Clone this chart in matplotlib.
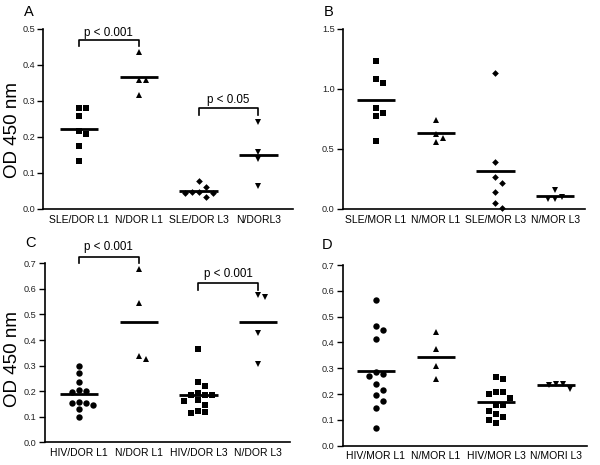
import matplotlib.pyplot as plt
import numpy as np

plt.rcParams['font.family'] = ['Liberation Sans', 'DejaVu Sans']

# panel A
a_labels = ['SLE/DOR L1', 'N/DOR L1', 'SLE/DOR L3', 'N/DORL3']
a_sle_dor_l1 = [0.280, 0.280, 0.259, 0.218, 0.208, 0.176, 0.134]
a_n_dor_l1 = [0.435, 0.358, 0.358, 0.317]
a_sle_dor_l3 = [0.079, 0.062, 0.047, 0.046, 0.045, 0.044, 0.034]
a_n_dorl3 = [0.241, 0.159, 0.139, 0.065]

# panel B
b_labels = ['SLE/MOR L1', 'N/MOR L1', 'SLE/MOR L3', 'N/MOR L3']
b_sle_mor_l1 = [1.236, 1.081, 1.047, 0.844, 0.803, 0.778, 0.567]
b_n_mor_l1 = [0.742, 0.622, 0.594, 0.561]
b_sle_mor_l3 = [1.131, 0.389, 0.264, 0.214, 0.139, 0.048, 0.011]
b_n_mor_l3 = [0.158, 0.102, 0.081, 0.081]

# panel C
c_labels = ['HIV/DOR L1', 'N/DOR L1', 'HIV/DOR L3', 'N/DOR L3']
c_hiv_dor_l1 = [0.298, 0.270, 0.237, 0.205, 0.202, 0.197, 0.159, 0.153,
                0.153, 0.145, 0.130, 0.098]
c_n_dor_l1 = [0.677, 0.544, 0.338, 0.325]
c_hiv_dor_l3 = [0.365, 0.237, 0.220, 0.192, 0.186, 0.186, 0.186, 0.165,
                0.163, 0.147, 0.124, 0.120, 0.116]
c_n_dor_l3 = [0.576, 0.570, 0.429, 0.305]

# panel D
d_labels = ['HIV/MOR L1', 'N/MOR L1', 'HIV/MOR L3', 'N/MORI L3']
d_hiv_mor_l1 = [0.565, 0.465, 0.448, 0.413, 0.284, 0.278, 0.270, 0.239,
                0.216, 0.196, 0.173, 0.145, 0.067]
d_n_mor_l1 = [0.439, 0.375, 0.309, 0.258]
d_hiv_mor_l3 = [0.267, 0.257, 0.209, 0.209, 0.200, 0.184, 0.158, 0.158,
                0.136, 0.123, 0.112, 0.100, 0.087]
d_n_mor_l3 = [0.239, 0.239, 0.235, 0.220]

fig = plt.figure(figsize=(6, 4.65), dpi=100)
W, H = 600, 465


def make_axes(left, right, top, bottom):
    return fig.add_axes([left / W, (H - bottom) / H, (right - left) / W, (bottom - top) / H])


def swarm(ax, xc, vals, marker, ms, step_px=7.0, size_px=6.8):
    y0 = ax.transData.transform((0, 0))
    y1 = ax.transData.transform((1, 1))
    xppu = abs(y1[0] - y0[0])
    yppu = abs(y1[1] - y0[1])
    placed = []
    xs, ys = [], []
    for v in sorted(vals, reverse=True):
        ypx = v * yppu
        for k in [0, 1, -1, 2, -2, 3, -3]:
            if all(not (s == k and abs(ypx - yy) < size_px) for s, yy in placed):
                break
        placed.append((k, ypx))
        xs.append(xc + k * step_px / xppu)
        ys.append(v)
    ax.plot(xs, ys, linestyle='none', marker=marker, ms=ms, color='black',
            markeredgewidth=0, clip_on=False, zorder=3)
    m = np.mean(vals)
    ax.plot([xc - 0.32, xc + 0.32], [m, m], color='black', lw=2, zorder=4,
            solid_capstyle='butt')


def style(ax, labels, yticks, fmt):
    for s in ['top', 'right']:
        ax.spines[s].set_visible(False)
    for s in ['left', 'bottom']:
        ax.spines[s].set_linewidth(1.2)
    ax.set_xticks(range(4))
    ax.set_xticklabels(labels, fontsize=7.5)
    ax.tick_params(axis='x', length=0, pad=4)
    ax.set_yticks(yticks)
    ax.set_yticklabels([fmt.format(t) for t in yticks], fontsize=6.6, color='#222222')
    ax.tick_params(axis='y', length=4, width=1, direction='out', pad=2)


def bracket(ax, x1, x2, ytop, yleg, ytext, text):
    ax.plot([x1, x1, x2, x2], [yleg, ytop, ytop, yleg], color='black', lw=1.2,
            clip_on=False)
    ax.text((x1 + x2) / 2, ytext, text, ha='center', va='center', fontsize=8.4)


markers_sle = [('s', 4.2), ('^', 4.6), ('D', 3.4), ('v', 4.6)]
markers_hiv = [('o', 4.6), ('^', 4.6), ('s', 4.2), ('v', 4.6)]

# A
axA = make_axes(43.3, 292.7, 29, 209)
axA.set_xlim(-0.597, 3.574)
axA.set_ylim(0, 0.5)
for i, vals in enumerate([a_sle_dor_l1, a_n_dor_l1, a_sle_dor_l3, a_n_dorl3]):
    swarm(axA, i, vals, *markers_sle[i])
style(axA, a_labels, np.arange(0, 0.51, 0.1), '{:.1f}')
bracket(axA, 0, 1, 0.469, 0.454, 0.49, 'p < 0.001')
bracket(axA, 2, 3, 0.280, 0.262, 0.303, 'p < 0.05')
axA.set_ylabel('OD 450 nm', fontsize=13.5)
axA.yaxis.set_label_coords(-0.089, 0.44)

# B
axB = make_axes(343, 585, 29, 209)
axB.set_xlim(-0.553, 3.50)
axB.set_ylim(0, 1.5)
for i, vals in enumerate([b_sle_mor_l1, b_n_mor_l1, b_sle_mor_l3, b_n_mor_l3]):
    swarm(axB, i, vals, *markers_sle[i])
style(axB, b_labels, [0, 0.5, 1.0, 1.5], '{:.1f}')

# C
axC = make_axes(44.5, 290, 263.3, 442.3)
axC.set_xlim(-0.578, 3.534)
axC.set_ylim(0, 0.7)
for i, vals in enumerate([c_hiv_dor_l1, c_n_dor_l1, c_hiv_dor_l3, c_n_dor_l3]):
    swarm(axC, i, vals, *markers_hiv[i])
style(axC, c_labels, np.arange(0, 0.71, 0.1), '{:.1f}')
bracket(axC, 0, 1, 0.724, 0.700, 0.763, 'p < 0.001')
bracket(axC, 2, 3, 0.622, 0.596, 0.657, 'p < 0.001')
axC.set_ylabel('OD 450 nm', fontsize=13.5)
axC.yaxis.set_label_coords(-0.095, 0.467)

# D
axD = make_axes(342.7, 587, 265, 445.7)
axD.set_xlim(-0.555, 3.517)
axD.set_ylim(0, 0.7)
for i, vals in enumerate([d_hiv_mor_l1, d_n_mor_l1, d_hiv_mor_l3, d_n_mor_l3]):
    swarm(axD, i, vals, *markers_hiv[i])
style(axD, d_labels, np.arange(0, 0.71, 0.1), '{:.1f}')

for letter, x, y in [('A', 29, 12), ('B', 329, 12), ('C', 30, 243), ('D', 327, 245)]:
    fig.text(x / W, 1 - y / H, letter, fontsize=10.5, ha='center', va='center')

fig.savefig('out.png', dpi=100)
